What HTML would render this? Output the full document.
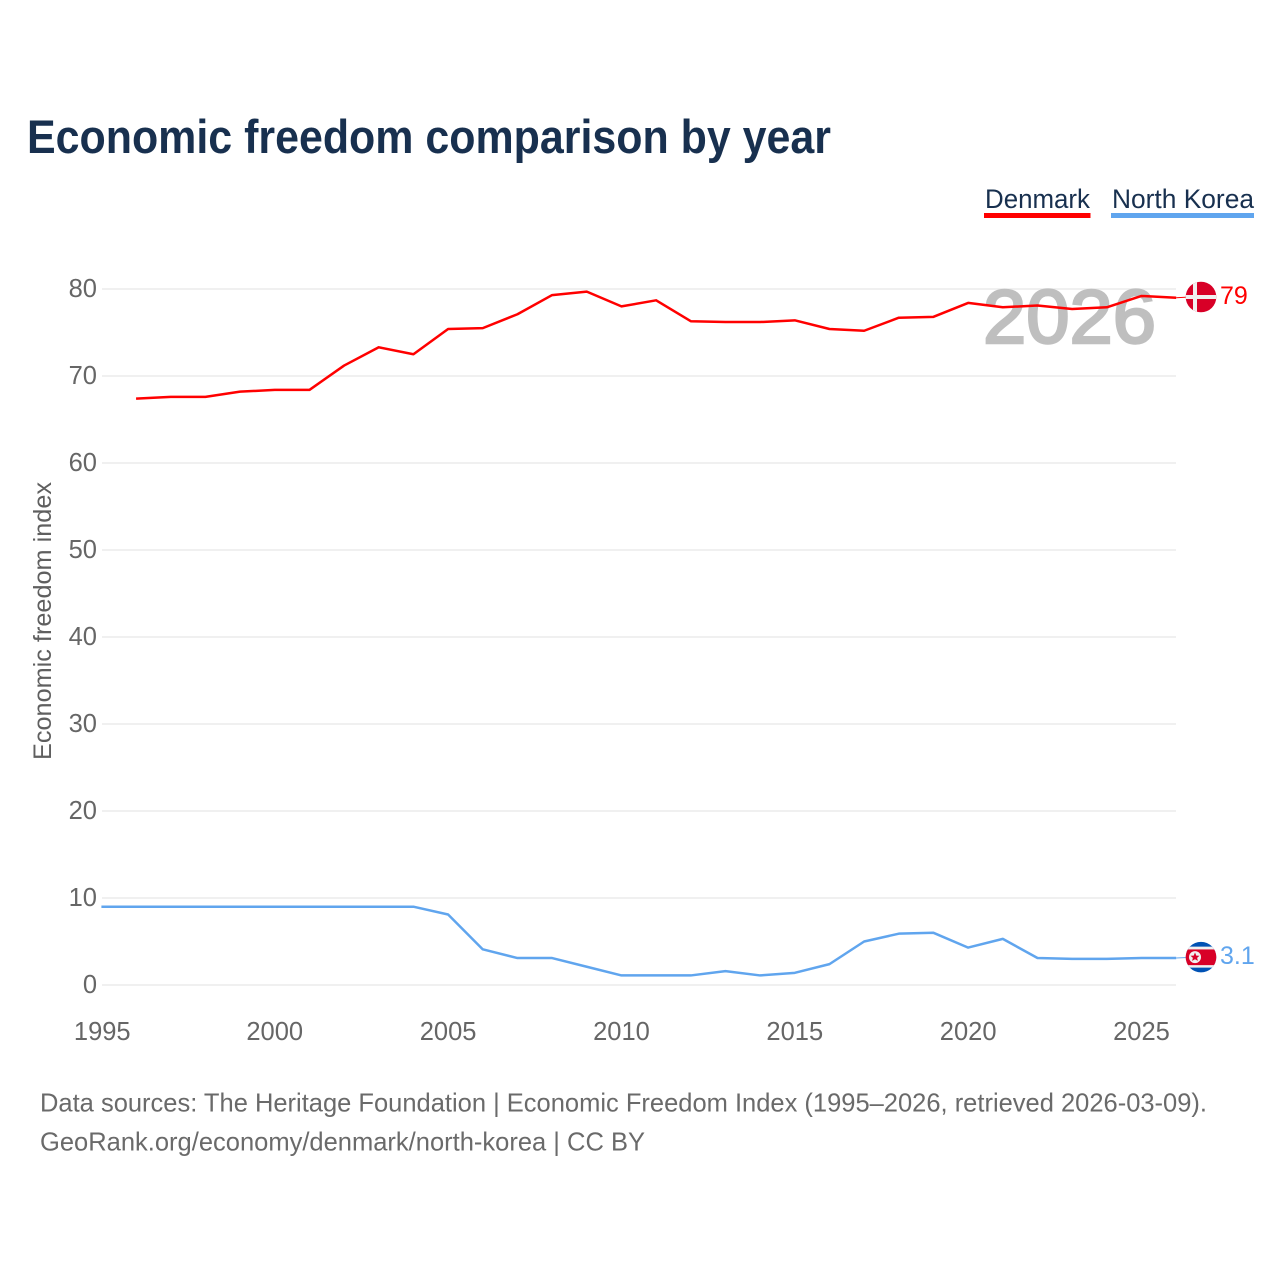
<!DOCTYPE html>
<html lang="en">
<head>
<meta charset="utf-8">
<title>Economic freedom comparison by year</title>
<style>
html,body{margin:0;padding:0;background:#fff;}
svg{display:block;font-family:"Liberation Sans",sans-serif;}
</style>
</head>
<body>
<svg id="chart" xmlns="http://www.w3.org/2000/svg" width="1280" height="1280" viewBox="0 0 1280 1280">
  <rect x="0" y="0" width="1280" height="1280" fill="#ffffff"/>
  <text x="27" y="153" font-size="47" font-weight="700" fill="#18304f" textLength="804" lengthAdjust="spacingAndGlyphs">Economic freedom comparison by year</text>

  <g>
    <text x="985" y="208" font-size="27" fill="#18304f" textLength="105" lengthAdjust="spacingAndGlyphs">Denmark</text>
    <rect x="984" y="213" width="106.500" height="5" fill="#ff0000"/>
  </g>
  <g>
    <text x="1112" y="208" font-size="27" fill="#18304f" textLength="142" lengthAdjust="spacingAndGlyphs">North Korea</text>
    <rect x="1111" y="213" width="143" height="5" fill="#60a5ee"/>
  </g>

  <g id="grid"></g>
  <g id="yticks"></g>
  <g id="xticks"></g>

  <text transform="translate(51,621) rotate(-90)" text-anchor="middle" font-size="25" fill="#5f5f5f" textLength="278" lengthAdjust="spacingAndGlyphs">Economic freedom index</text>

  <text x="983" y="343" font-size="76" font-weight="400" fill="#bfbfbf" stroke="#bfbfbf" stroke-width="2.500" textLength="173" lengthAdjust="spacingAndGlyphs">2026</text>

  <g id="series"></g>

  <defs>
    <clipPath id="flag-clip"><circle cx="0" cy="0" r="15.300"/></clipPath>
  </defs>

  <g id="flag-dk">
    <g clip-path="url(#flag-clip)">
      <rect x="-16" y="-16" width="32" height="32" fill="#d80027"/>
      <rect x="-8" y="-16" width="4" height="32" fill="#f0f0f0"/>
      <rect x="-16" y="-2" width="32" height="4" fill="#f0f0f0"/>
    </g>
  </g>
  <g id="flag-kp">
    <g clip-path="url(#flag-clip)">
      <rect x="-16" y="-16" width="32" height="32" fill="#0052b4"/>
      <rect x="-16" y="-10.500" width="32" height="21" fill="#f0f0f0"/>
      <rect x="-16" y="-7.700" width="32" height="15.700" fill="#d80027"/>
      <circle cx="-6" cy="0" r="6" fill="#f0f0f0"/>
      <polygon points="-6,-4.600 -4.700,-1.500 -1.500,-1.400 -3.900,0.700 -3.100,3.800 -6,2.100 -8.900,3.800 -8.100,0.700 -10.500,-1.400 -7.300,-1.500" fill="#d80027"/>
    </g>
  </g>

  <text id="value-dk" x="1220" y="304" font-size="25" fill="#ff0000"></text>
  <text id="value-kp" x="1220" y="964" font-size="25" fill="#60a5ee"></text>

  <text x="40" y="1111.500" font-size="26" fill="#6a6a6a" textLength="1167" lengthAdjust="spacingAndGlyphs">Data sources: The Heritage Foundation | Economic Freedom Index (1995–2026, retrieved 2026-03-09).</text>
  <text x="40" y="1150.500" font-size="26" fill="#6a6a6a" textLength="605" lengthAdjust="spacingAndGlyphs">GeoRank.org/economy/denmark/north-korea | CC BY</text>
</svg>

<script>
const yTickValues = [0, 10, 20, 30, 40, 50, 60, 70, 80];
const xTickYears = [1995, 2000, 2005, 2010, 2015, 2020, 2025];
const denmarkYears = [1996,1997,1998,1999,2000,2001,2002,2003,2004,2005,2006,2007,2008,2009,2010,2011,2012,2013,2014,2015,2016,2017,2018,2019,2020,2021,2022,2023,2024,2025,2026];
const denmarkValues = [67.4,67.6,67.6,68.2,68.4,68.4,71.2,73.3,72.5,75.4,75.5,77.1,79.3,79.7,78.0,78.7,76.3,76.2,76.2,76.4,75.4,75.2,76.7,76.8,78.4,77.9,78.1,77.7,77.9,79.2,79.0];
const northKoreaYears = [1995,1996,1997,1998,1999,2000,2001,2002,2003,2004,2005,2006,2007,2008,2009,2010,2011,2012,2013,2014,2015,2016,2017,2018,2019,2020,2021,2022,2023,2024,2025,2026];
const northKoreaValues = [9,9,9,9,9,9,9,9,9,9,8.1,4.1,3.1,3.1,2.1,1.1,1.1,1.1,1.6,1.1,1.4,2.4,5.0,5.9,6.0,4.3,5.3,3.1,3.0,3.0,3.1,3.1];

const NS = 'http://www.w3.org/2000/svg';
const xScale = function (year) { return 101.4 + (year - 1995) * 34.67; };
const yScale = function (v) { return 985 - v * 8.7; };

const grid = document.getElementById('grid');
const yticks = document.getElementById('yticks');
const xticks = document.getElementById('xticks');
const series = document.getElementById('series');

yTickValues.forEach(function (v) {
  const line = document.createElementNS(NS, 'line');
  
  
  line.setAttribute('x1', 102);
  line.setAttribute('x2', 1176);
  line.setAttribute('y1', yScale(v));
  line.setAttribute('y2', yScale(v));
  line.setAttribute('stroke', '#eeeeee');
  line.setAttribute('stroke-width', '1.700');
  grid.appendChild(line);

  const label = document.createElementNS(NS, 'text');
  
  
  label.setAttribute('x', 97);
  label.setAttribute('y', yScale(v) + 8);
  label.setAttribute('text-anchor', 'end');
  label.setAttribute('font-size', '25.500');
  label.setAttribute('fill', '#666666');
  label.textContent = v;
  yticks.appendChild(label);
});

xTickYears.forEach(function (year) {
  const label = document.createElementNS(NS, 'text');
  
  
  label.setAttribute('x', xScale(year));
  label.setAttribute('y', 1040);
  label.setAttribute('text-anchor', year === 1995 ? 'start' : 'middle');
  if (year === 1995) { label.setAttribute('dx', '-27.500'); }
  label.setAttribute('font-size', '25.500');
  label.setAttribute('fill', '#666666');
  label.textContent = year;
  xticks.appendChild(label);
});

function pointsFor(years, values) {
  return years.map(function (year, i) {
    return xScale(year).toFixed(2) + ',' + yScale(values[i]).toFixed(2);
  }).join(' ');
}

const dkLine = document.createElementNS(NS, 'polyline');


dkLine.setAttribute('points', pointsFor(denmarkYears, denmarkValues));
dkLine.setAttribute('fill', 'none');
dkLine.setAttribute('stroke', '#ff0000');
dkLine.setAttribute('stroke-width', '2.500');
dkLine.setAttribute('stroke-linejoin', 'round');
series.appendChild(dkLine);

const kpLine = document.createElementNS(NS, 'polyline');


kpLine.setAttribute('points', pointsFor(northKoreaYears, northKoreaValues));
kpLine.setAttribute('fill', 'none');
kpLine.setAttribute('stroke', '#60a5ee');
kpLine.setAttribute('stroke-width', '2.500');
kpLine.setAttribute('stroke-linejoin', 'round');
series.appendChild(kpLine);

const dkLast = denmarkValues[denmarkValues.length - 1];
const kpLast = northKoreaValues[northKoreaValues.length - 1];
const endX = xScale(2026);

const dkConnector = document.createElementNS(NS, 'line');


dkConnector.setAttribute('x1', endX);
dkConnector.setAttribute('x2', 1190);
dkConnector.setAttribute('y1', yScale(dkLast));
dkConnector.setAttribute('y2', yScale(dkLast) - 0.7);
dkConnector.setAttribute('stroke', '#ff0000');
dkConnector.setAttribute('stroke-width', '1');
series.appendChild(dkConnector);

const kpConnector = document.createElementNS(NS, 'line');


kpConnector.setAttribute('x1', endX);
kpConnector.setAttribute('x2', 1190);
kpConnector.setAttribute('y1', yScale(kpLast));
kpConnector.setAttribute('y2', yScale(kpLast) - 0.7);
kpConnector.setAttribute('stroke', '#60a5ee');
kpConnector.setAttribute('stroke-width', '1');
series.appendChild(kpConnector);

document.getElementById('flag-dk').setAttribute('transform', 'translate(1201,' + (yScale(dkLast) - 0.7) + ')');
document.getElementById('flag-kp').setAttribute('transform', 'translate(1201,' + (yScale(kpLast) - 0.9) + ')');

const dkValue = document.getElementById('value-dk');
dkValue.setAttribute('y', yScale(dkLast) + 6.3);
dkValue.textContent = dkLast;

const kpValue = document.getElementById('value-kp');
kpValue.setAttribute('y', yScale(kpLast) + 6);
kpValue.textContent = kpLast;
</script>
</body>
</html>
